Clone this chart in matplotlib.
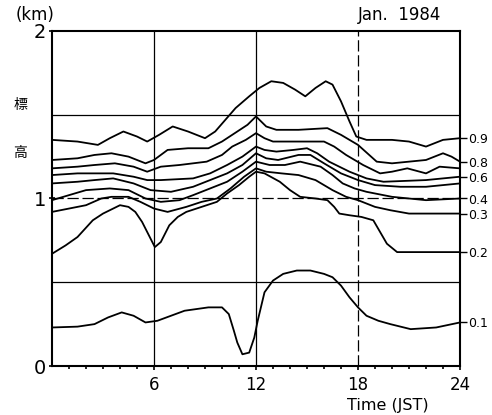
import matplotlib
matplotlib.use("Agg")
import matplotlib.pyplot as plt

# Height (km) of each contour level through the day
t09 = [0, 1.5, 2.7, 3.4, 4.2, 5.0, 5.6, 6.3, 7.1, 8.0, 9.0, 9.6, 10.2, 10.8, 11.6, 12.2, 12.9, 13.6,
       14.3, 14.9, 15.5, 16.1, 16.5, 17.0, 17.5, 17.9, 18.5, 20.0, 21.0, 22.0, 23.0, 24.0]
z09 = [1.35, 1.34, 1.32, 1.36, 1.40, 1.37, 1.34, 1.38, 1.43, 1.40, 1.36, 1.40, 1.47, 1.54, 1.61, 1.66,
       1.70, 1.69, 1.65, 1.61, 1.66, 1.70, 1.68, 1.58, 1.46, 1.37, 1.35, 1.35, 1.34, 1.31, 1.35, 1.36]

t08 = [0, 1.5, 2.5, 3.5, 4.5, 5.5, 6.0, 6.8, 8.0, 9.2, 10.0, 10.9, 11.5, 12.0, 12.6, 13.2, 14.5, 16.2,
       17.0, 18.0, 19.1, 20.0, 21.0, 22.0, 23.0, 23.5, 24]
z08 = [1.23, 1.24, 1.26, 1.27, 1.25, 1.21, 1.23, 1.29, 1.30, 1.30, 1.34, 1.40, 1.44, 1.49, 1.43, 1.41,
       1.41, 1.42, 1.38, 1.32, 1.22, 1.21, 1.22, 1.23, 1.27, 1.25, 1.22]

t07 = [0, 1.5, 2.5, 3.7, 4.8, 5.6, 6.4, 7.5, 9.1, 10.0, 10.6, 11.4, 12.0, 12.5, 13.0, 14.0, 16.0, 16.6,
       17.3, 18.3, 19.3, 20.0, 20.9, 22.0, 22.8, 24]
z07 = [1.18, 1.19, 1.20, 1.21, 1.19, 1.16, 1.19, 1.20, 1.22, 1.26, 1.31, 1.35, 1.39, 1.36, 1.34, 1.34,
       1.34, 1.31, 1.26, 1.20, 1.15, 1.16, 1.18, 1.15, 1.19, 1.18]

t06 = [0, 1.5, 2.5, 3.6, 4.8, 5.6, 6.4, 8.3, 9.3, 10.3, 11.2, 12.0, 12.5, 13.2, 14.2, 15.0, 15.6, 16.3,
       17.5, 18.5, 19.5, 22.0, 24]
z06 = [1.14, 1.15, 1.15, 1.15, 1.13, 1.11, 1.11, 1.12, 1.15, 1.20, 1.25, 1.31, 1.29, 1.28, 1.29, 1.30,
       1.27, 1.22, 1.16, 1.12, 1.10, 1.11, 1.13]

t05 = [0, 1.5, 2.5, 3.6, 4.8, 5.8, 7.0, 8.3, 9.3, 10.3, 11.2, 12.0, 12.6, 13.3, 14.5, 15.2, 16.0, 17.0,
       18.0, 19.0, 20.5, 22.0, 24]
z05 = [1.09, 1.10, 1.11, 1.12, 1.09, 1.05, 1.04, 1.07, 1.11, 1.15, 1.20, 1.27, 1.24, 1.23, 1.26, 1.26,
       1.21, 1.15, 1.11, 1.08, 1.07, 1.07, 1.09]

t04 = [0, 1.0, 2.0, 3.4, 4.5, 5.5, 6.4, 7.5, 8.3, 9.3, 10.3, 11.2, 12.0, 12.8, 13.7, 14.6, 15.8, 16.5,
       17.1, 17.8, 18.5, 20.0, 21.0, 22.0, 24]
z04 = [0.99, 1.02, 1.05, 1.06, 1.05, 1.00, 0.98, 0.99, 1.02, 1.06, 1.10, 1.16, 1.22, 1.20, 1.20, 1.22,
       1.19, 1.14, 1.09, 1.06, 1.04, 1.01, 1.00, 0.99, 1.00]

t03 = [0, 1.0, 2.0, 2.9, 3.5, 4.5, 5.2, 6.0, 6.8, 7.9, 8.8, 9.7, 10.5, 11.3, 12.0, 12.6, 13.5, 14.5,
       15.5, 16.5, 17.3, 18.0, 19.0, 19.9, 21.0, 24]
z03 = [0.92, 0.94, 0.96, 1.00, 1.01, 1.01, 0.98, 0.94, 0.92, 0.95, 0.98, 1.00, 1.06, 1.13, 1.18, 1.16,
       1.15, 1.14, 1.11, 1.05, 1.01, 0.99, 0.95, 0.93, 0.91, 0.91]

t02 = [0, 0.8, 1.5, 2.4, 3.0, 4.0, 4.5, 4.9, 5.3, 5.7, 6.05, 6.4, 6.9, 7.4, 7.9, 8.8, 9.7, 10.3, 11.0,
       11.6, 12.0, 12.5, 13.4, 14.0, 14.6, 15.5, 16.2, 16.6, 16.9, 17.5, 18.2, 18.9, 19.3, 19.7, 20.3,
       21.0, 24]
z02 = [0.67, 0.72, 0.77, 0.87, 0.91, 0.96, 0.95, 0.92, 0.86, 0.78, 0.71, 0.74, 0.84, 0.89, 0.92, 0.95,
       0.98, 1.03, 1.08, 1.13, 1.16, 1.15, 1.10, 1.05, 1.01, 1.00, 0.99, 0.95, 0.91, 0.90, 0.89, 0.87,
       0.80, 0.73, 0.68, 0.68, 0.68]

t01 = [0, 1.5, 2.5, 3.3, 4.1, 4.8, 5.5, 6.2, 7.0, 7.8, 9.2, 10.0, 10.4, 10.7, 10.9, 11.2, 11.6, 11.9,
       12.1, 12.5, 13.0, 13.6, 14.4, 15.2, 16.0, 16.5, 17.0, 17.5, 18.0, 18.5, 19.2, 19.9, 21.1, 22.6, 24]
z01 = [0.23, 0.235, 0.25, 0.29, 0.32, 0.30, 0.26, 0.27, 0.30, 0.33, 0.35, 0.35, 0.31, 0.21, 0.14, 0.07,
       0.08, 0.17, 0.27, 0.44, 0.51, 0.55, 0.57, 0.57, 0.55, 0.53, 0.48, 0.41, 0.35, 0.30, 0.27, 0.25,
       0.22, 0.23, 0.26]

curves = [(t09, z09), (t08, z08), (t07, z07), (t06, z06), (t05, z05),
          (t04, z04), (t03, z03), (t02, z02), (t01, z01)]
level_labels = ["0.9", "0.8", None, "0.6", None, "0.4", "0.3", "0.2", "0.1"]

W, H = 492, 415
fig = plt.figure(figsize=(W / 100, H / 100), dpi=100)
ax = fig.add_axes([52 / W, 1 - 366 / H, (460 - 52) / W, (366 - 31) / H])

# grid lines of the original diagram
for yv in [0.5, 1.5]:
    ax.axhline(yv, color="black", lw=0.9, zorder=1)
ax.axhline(1.0, color="black", lw=0.9, ls=(0, (9, 3)), zorder=1)
for xv in [6, 12]:
    ax.axvline(xv, color="black", lw=0.9, zorder=1)
ax.axvline(18, color="black", lw=0.9, ls=(0, (9, 3)), zorder=1)

for t, z in curves:
    ax.plot(t, z, color="black", lw=1.3, solid_joinstyle="round", zorder=2)

ax.set_xlim(0, 24)
ax.set_ylim(0, 2)
ax.set_xticks([6, 12, 18, 24])
ax.set_xticks(range(1, 24), minor=True)
ax.set_yticks([0, 1, 2])
ax.tick_params(axis="x", which="major", length=3, width=1.2, pad=4, labelsize=12)
ax.tick_params(axis="x", which="minor", length=2, width=1.2)
ax.tick_params(axis="y", which="major", length=5, width=1.2, pad=2, labelsize=14, direction="inout")
for s in ax.spines.values():
    s.set_linewidth(1.5)

# level labels at the right-hand ends of the curves
ax2 = ax.twinx()
ax2.set_ylim(0, 2)
ends = [z[-1] for (t, z), lab in zip(curves, level_labels) if lab]
ax2.set_yticks(ends)
ax2.set_yticklabels([lab for lab in level_labels if lab], fontsize=9)
ax2.tick_params(axis="y", length=5, width=1, pad=1)
for s in ax2.spines.values():
    s.set_visible(False)

fig.text(35 / W, 1 - 15 / H, "(km)", ha="center", va="center", fontsize=12)
fig.text(400 / W, 1 - 15 / H, "Jan.  1984", ha="center", va="center", fontsize=12)
fig.text(388 / W, 1 - 405 / H, "Time (JST)", ha="center", va="center", fontsize=11.5)
fig.text(20 / W, 1 - 105 / H, "標", ha="center", va="center", fontsize=10,
         family=["Noto Sans CJK JP", "DejaVu Sans"])
fig.text(20 / W, 1 - 153 / H, "高", ha="center", va="center", fontsize=10,
         family=["Noto Sans CJK JP", "DejaVu Sans"])

fig.savefig("out.png", dpi=100)
